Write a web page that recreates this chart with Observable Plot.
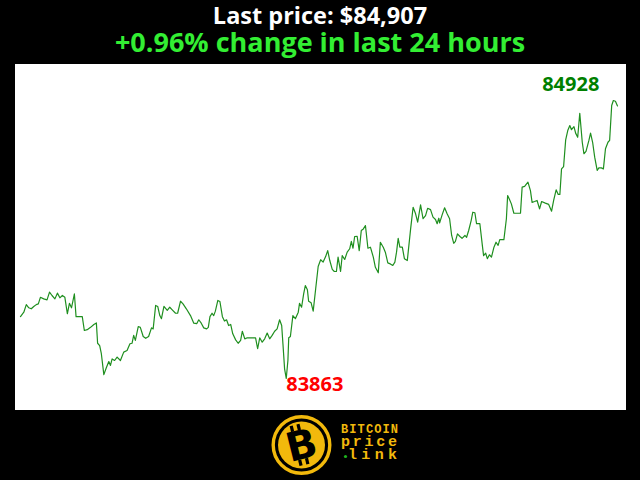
<!DOCTYPE html>
<html><head><meta charset="utf-8">
<script src="https://cdn.jsdelivr.net/npm/d3@7"></script>
<script src="https://cdn.jsdelivr.net/npm/@observablehq/plot@0.6"></script>
<style>
html,body{margin:0;padding:0;background:#000;width:640px;height:480px;overflow:hidden;}
#head{height:64px;text-align:center;font-family:"Open Sans",sans-serif;font-weight:700;white-space:nowrap;}
#t1{color:#fff;font-size:23.5px;line-height:31px;}
#t2{color:#33ee33;font-size:27px;line-height:21px;}
#logo{height:70px;}
#logo svg{display:block;}
</style></head><body>
<div id="head"><div id="t1"></div><div id="t2"></div></div>
<div id="chart"></div>
<div id="logo">
<svg width="640" height="70">
 <g transform="translate(301.5,35)">
  <circle r="28.3" fill="none" stroke="#f2b90c" stroke-width="3.4"/>
  <circle r="23.5" fill="#f2b90c"/>
  <g transform="rotate(-14)">
   <rect x="-7" y="-21" width="3.2" height="6" fill="#000"/>
   <rect x="0" y="-21" width="3.2" height="6" fill="#000"/>
   <rect x="-7" y="14" width="3.2" height="6" fill="#000"/>
   <rect x="0" y="14" width="3.2" height="6" fill="#000"/>
   <text x="0" y="14" text-anchor="middle" font-family="DejaVu Sans" font-weight="bold" font-size="40" fill="#000">B</text>
  </g>
 </g>
 <text x="341" y="23" font-family="Liberation Mono" font-weight="bold" font-size="12" fill="#f2b90c" textLength="57" lengthAdjust="spacing">BITCOIN</text>
 <text x="341" y="36" font-family="Liberation Mono" font-weight="bold" font-size="15" fill="#f2b90c" textLength="56" lengthAdjust="spacing">price</text>
 <circle cx="345.5" cy="46.5" r="1.6" fill="#1db31d"/>
 <text x="348" y="49" font-family="Liberation Mono" font-weight="bold" font-size="15" fill="#f2b90c" textLength="49" lengthAdjust="spacing">link</text>
</svg>
</div>
<script>
// minutes since start of the 24-hour window
const minutes = [0,8,14,20,26,32,38,43,48,56,
64,70,76,83,89,95,101,107,113,118,
123,130,134,149,154,161,169,177,183,186,
191,195,201,207,213,217,221,227,233,241,
249,257,264,269,273,277,284,289,296,302,
309,316,320,326,331,336,340,346,354,360,
366,374,379,386,392,400,410,418,425,430,
436,442,449,453,457,462,466,470,476,481,
487,492,497,502,507,512,519,525,531,535,
541,547,555,567,572,577,583,589,595,601,
607,613,619,625,630,633,637,641,645,647,
651,657,663,670,673,678,683,687,692,695,
701,706,712,718,724,730,736,741,746,752,
757,762,766,772,776,782,788,794,798,802,
806,812,817,822,827,832,838,844,851,856,
863,868,875,880,886,892,898,903,907,911,
915,921,926,933,941,947,953,958,965,971,
977,982,989,995,1001,1005,1009,1011,1017,1023,
1029,1035,1040,1045,1049,1054,1060,1065,1072,1076,
1081,1087,1091,1096,1100,1108,1114,1117,1122,1126,
1131,1136,1142,1147,1152,1156,1166,1172,1175,1179,
1184,1190,1206,1210,1216,1224,1230,1234,1240,1246,
1252,1257,1266,1274,1281,1286,1292,1297,1301,1305,
1310,1315,1320,1325,1329,1335,1339,1344,1349,1355,
1359,1364,1371,1375,1380,1385,1391,1395,1401,1406,
1411,1417,1421,1426,1430,1435,1440];
// BTC price in USD
const prices = [84100,84117,84146,84134,84130,84139,84146,84149,84174,84168,
84164,84194,84181,84168,84190,84172,84181,84174,84111,84151,
84134,84187,84100,84100,84047,84050,84059,84070,84076,83998,
83989,83958,83878,83904,83928,83913,83938,83932,83945,83932,
83964,83970,83996,83998,84028,84009,84062,84059,84024,84017,
84024,84057,84053,84143,84139,84104,84092,84139,84124,84136,
84126,84113,84113,84159,84149,84130,84104,84075,84073,84088,
84075,84057,84053,84059,84100,84113,84104,84121,84162,84158,
84100,84083,84088,84066,84070,84034,84011,83998,84009,84044,
84015,84019,84019,84019,83977,84019,84002,84015,84037,84015,
84028,84044,84053,84088,84066,83996,83900,83863,83932,84019,
84024,84104,84092,84117,84151,84136,84187,84219,84203,84159,
84153,84121,84207,84292,84318,84309,84330,84353,84315,84281,
84273,84273,84328,84273,84334,84319,84347,84360,84388,84362,
84407,84408,84353,84430,84436,84449,84362,84366,84328,84289,
84268,84385,84366,84347,84306,84302,84296,84309,84347,84400,
84366,84366,84322,84315,84436,84519,84494,84462,84528,84475,
84487,84515,84510,84481,84472,84456,84477,84459,84490,84517,
84494,84475,84411,84381,84388,84417,84407,84400,84411,84404,
84430,84468,84500,84498,84456,84456,84373,84334,84343,84322,
84337,84328,84366,84385,84373,84395,84395,84475,84564,84551,
84532,84496,84496,84596,84599,84615,84583,84538,84541,84545,
84513,84541,84535,84530,84504,84545,84586,84568,84568,84666,
84675,84777,84813,84832,84816,84828,84803,84787,84879,84768,
84724,84733,84775,84803,84768,84711,84660,84670,84670,84666,
84743,84768,84775,84909,84928,84925,84907];

const n = Math.min(minutes.length, prices.length);
const data = d3.range(n).map(i => ({t: minutes[i], p: prices[i]}));
const maxPt = data[d3.maxIndex(data, d => d.p)];
const minPt = data[d3.minIndex(data, d => d.p)];
const last = data[n - 1].p, first = data[0].p;
const pct = (last - first) / first * 100;

document.getElementById("t1").textContent = "Last price: $" + d3.format(",")(last);
document.getElementById("t2").textContent = (pct >= 0 ? "+" : "") + pct.toFixed(2) + "% change in last 24 hours";

const chart = Plot.plot({
  width: 640,
  height: 346,
  marginLeft: 15, marginRight: 15, marginTop: 0, marginBottom: 0,
  style: "background:#000;display:block;",
  x: {domain: [0, 1440], axis: null, insetLeft: 5, insetRight: 8},
  y: {domain: [d3.min(prices), d3.max(prices)], axis: null, insetTop: 36, insetBottom: 32},
  marks: [
    Plot.frame({fill: "white", stroke: "white"}),
    Plot.line(data, {x: "t", y: "p", stroke: "#1f8f1f", strokeWidth: 1.2}),
    Plot.text([maxPt], {x: "t", y: "p", text: d => String(d.p), fill: "#008000",
      fontFamily: "Open Sans", fontWeight: "bold", fontSize: 20,
      textAnchor: "end", lineAnchor: "bottom", dx: -14, dy: -10}),
    Plot.text([minPt], {x: "t", y: "p", text: d => String(d.p), fill: "#ff0000",
      fontFamily: "Open Sans", fontWeight: "bold", fontSize: 20,
      textAnchor: "start", lineAnchor: "bottom", dx: 0, dy: 12})
  ]
});
document.getElementById("chart").appendChild(chart);
</script>
</body></html>
